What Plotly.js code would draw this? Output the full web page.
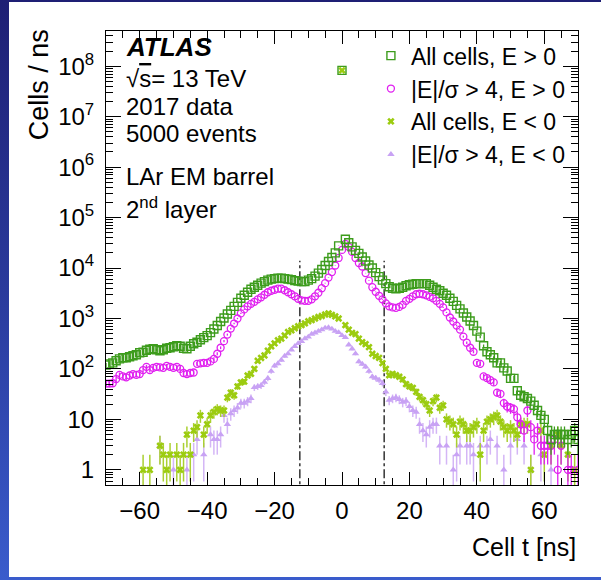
<!DOCTYPE html>
<html>
<head>
<meta charset="utf-8">
<script src="https://cdn.plot.ly/plotly-3.0.1.min.js"></script>
<style>
html,body{margin:0;padding:0;}
body{width:601px;height:580px;overflow:hidden;background:linear-gradient(to bottom,#1e1f74 0%,#2a3a9c 50%,#3a5ccc 100%);position:relative;}
#chart{position:absolute;left:9px;top:2px;width:592px;height:575px;background:#fff;}
</style>
</head>
<body>
<div id="chart"></div>
<script>
// Bin centres (ns)
const cellTime = [-70,-69,-68,-67,-66,-65,-64,-63,-62,-61,-60,-59,-58,-57,-56,-55,-54,-53,-52,-51,
-50,-49,-48,-47,-46,-45,-44,-43,-42,-41,-40,-39,-38,-37,-36,-35,-34,-33,-32,-31,
-30,-29,-28,-27,-26,-25,-24,-23,-22,-21,-20,-19,-18,-17,-16,-15,-14,-13,-12,-11,
-10,-9,-8,-7,-6,-5,-4,-3,-2,-1,0,1,2,3,4,5,6,7,8,9,10,
11,12,13,14,15,16,17,18,19,20,21,22,23,24,25,26,27,28,29,30,
31,32,33,34,35,36,37,38,39,40,41,42,43,44,45,46,47,48,49,50,
51,52,53,54,55,56,57,58,59,60,61,62,63,64,65,66,67,68,69,70];

// All cells, E > 0
const allCellsPos = [120,126,132,145,158,166,166,174,182,191,
209,214,234,245,251,240,229,240,257,263,
275,288,282,257,251,282,316,339,380,417,
457,525,617,724,871,1023,1230,1445,1738,2089,
2512,2884,3311,3802,4169,4571,5012,5370,5754,6026,
6166,6310,6310,6166,6026,5888,5623,5495,5370,5370,
5754,6166,6918,7943,9333,11220,13490,16220,19950,27540,
83000000,
37150,31620,26300,22390,19500,16600,13800,11480,10000,8128,
6761,5754,4898,4266,3981,3890,3981,4169,4467,4677,
4786,4898,4898,4898,4898,4571,4169,3802,3548,3162,
2884,2512,2188,1820,1549,1288,1072,891,724,562,
427,288,219,191,166,132,132,105,91,65,
65,37,30,28,26,23,19,15,12,10,
6,4,5,5,5,5,4,5,6,4];

// |E|/sigma > 4, E > 0
const sigCellsPos = [51,51,52,63,76,71,68,74,79,76,
79,95,110,95,105,110,107,105,115,110,
105,110,100,83,79,83,85,126,129,132,
132,141,158,200,263,355,479,631,794,1000,
1259,1514,1738,1950,2138,2399,2630,2951,3311,3548,
3715,3890,3890,3631,3311,3020,2754,2455,2291,2239,
2239,2399,2754,3236,3981,5012,6457,8318,11220,15850,
22910,
30200,26300,20890,15850,12590,10720,7943,5623,4169,3388,
2818,2399,1995,1738,1660,1622,1698,1862,2239,2455,
2754,3020,3090,3020,2884,2692,2512,2239,1950,1660,
1318,1047,871,724,603,437,331,263,219,132,
126,71,66,60,54,34,32,21,18,17,
16,11,8,6,15,7,4,6,3,3,
3,3,4,1,3,null,1,1,null,1];

// All cells, E < 0
const allCellsNeg = [null,null,null,null,null,null,null,null,null,null,
null,1,null,1,null,null,3,2,1,2,
null,2,1,2,5,2,6,7,12,5,
8,12,14,16,15,15,27,34,30,45,
54,56,74,80,100,145,165,185,230,280,
320,370,400,460,540,580,640,700,740,800,
880,930,1000,1070,1120,1200,1260,1180,1100,1000,
83000000,
740,600,520,490,400,340,310,270,200,180,
166,130,100,75,80,75,70,62,50,45,
42,35,28,24,20,15,23,27,17,19,
10,9,8,5,9,8,6,6,7,8,
2,6,9,10,11,12,9,7,6,7,
6,5,8,8,8,1,null,null,6,2,
null,3,null,5,3,null,2,null,1,null];

// |E|/sigma > 4, E < 0
const sigCellsNeg = [null,null,null,null,null,null,null,null,null,null,
null,null,null,null,null,null,3,null,null,null,
1,null,null,null,1,null,2,4,null,2,
null,5,4,4,5,12,8,13,15,17,
21,21,23,26,43,45,47,55,65,90,
115,128,150,180,200,240,280,320,350,400,
430,490,520,560,600,650,660,620,560,530,
460,
420,300,250,200,140,125,110,90,70,66,
60,52,35,24,26,27,25,22,23,18,
15,14,8,6,5,7,8,8,3,null,
3,null,1,2,3,null,3,3,2,null,
3,null,3,4,null,3,null,1,null,3,
null,4,null,3,null,1,null,null,2,null,
null,1,null,null,3,null,2,null,null,null];

const seriesNames = ['All cells, E > 0','|E|/\u03c3 > 4, E > 0','All cells, E < 0','|E|/\u03c3 > 4, E < 0'];
const yTickVals = [1,10,1e2,1e3,1e4,1e5,1e6,1e7,1e8];
const yTickText = ['1','10','10<sup>2</sup>','10<sup>3</sup>','10<sup>4</sup>','10<sup>5</sup>','10<sup>6</sup>','10<sup>7</sup>','10<sup>8</sup>'];
const cutTimes = [-12.5, 12.5];
const cutLineSpan = [0.3, 14000];
const labelLines = ['<b><i>ATLAS</i></b>','\u221a<span style="text-decoration:overline">s</span>= 13 TeV','2017 data','5000 events','LAr EM barrel','2<sup>nd</sup> layer'];

function errs(arr){ return arr.map(v => (v==null ? null : Math.sqrt(v))); }

const cutX = [], cutY = [];
cutTimes.forEach((c,i)=>{ if(i>0){cutX.push(null);cutY.push(null);} cutX.push(c,c); cutY.push(cutLineSpan[0],cutLineSpan[1]); });

const traces = [
  {x:cutX, y:cutY, mode:'lines', line:{color:'black', width:1.2, dash:'dashdot'}, showlegend:false, hoverinfo:'skip'},
  {x:cellTime, y:sigCellsNeg, name:seriesNames[3], mode:'markers', legendrank:4,
   marker:{symbol:'triangle-up', size:6.5, color:'#c8a2f4'},
   error_y:{type:'data', array:errs(sigCellsNeg), color:'#d4b6f6', thickness:1.5, width:0}},
  {x:cellTime, y:allCellsNeg, name:seriesNames[2], mode:'markers', legendrank:3,
   marker:{symbol:'x', size:6.5, color:'#9ccc10', line:{width:0}},
   error_y:{type:'data', array:errs(allCellsNeg), color:'#aad030', thickness:1.5, width:0}},
  {x:cellTime, y:sigCellsPos, name:seriesNames[1], mode:'markers', legendrank:2,
   marker:{symbol:'circle-open', size:7, color:'#e020f0', line:{width:1.3}},
   error_y:{type:'data', array:errs(sigCellsPos), color:'#e020f0', thickness:1.3, width:0}},
  {x:cellTime, y:allCellsPos, name:seriesNames[0], mode:'markers', legendrank:1,
   marker:{symbol:'square-open', size:8, color:'#3d9c1c', line:{width:1.4}},
   error_y:{type:'data', array:errs(allCellsPos), color:'#3d9c1c', thickness:1.3, width:0}}
];

const FONT = 'Liberation Sans, Arial, Helvetica, sans-serif';
const annY = [0.965, 0.8943, 0.8348, 0.7753, 0.6785, 0.6100];
const annSize = [26, 24, 24, 24, 24, 24];
const annotations = labelLines.map((txt,i)=>({
  text:txt, xref:'paper', yref:'paper', x:0.0381, y:annY[i], xanchor:'left', yanchor:'middle',
  showarrow:false, font:{family:FONT, size:annSize[i], color:'black'}
}));
annotations.push({text:'Cells / ns', textangle:-90, xref:'paper', yref:'paper', x:-0.143, y:1.008,
  xanchor:'center', yanchor:'top', showarrow:false, font:{family:FONT, size:27, color:'black'}});
annotations.push({text:'Cell t [ns]', xref:'paper', yref:'paper', x:1.0, y:-0.1366,
  xanchor:'right', yanchor:'middle', showarrow:false, font:{family:FONT, size:25, color:'black'}});

const layout = {
  width:592, height:575,
  margin:{l:97, r:23, t:29, b:92},
  paper_bgcolor:'#ffffff', plot_bgcolor:'#ffffff',
  font:{family:FONT, color:'black'},
  showlegend:true,
  legend:{x:0.985, y:0.993, xanchor:'right', yanchor:'top', bgcolor:'rgba(0,0,0,0)',
    font:{family:FONT, size:23, color:'black'}, traceorder:'normal', itemwidth:30},
  xaxis:{range:[-70,70], tick0:0, dtick:20, ticks:'inside', ticklen:13, tickwidth:1, tickcolor:'black',
    showline:true, linecolor:'black', linewidth:1, mirror:'allticks', showgrid:false, zeroline:false,
    tickfont:{family:FONT, size:24, color:'black'}, ticklabelstandoff:4,
    minor:{tick0:0, dtick:5, ticks:'inside', ticklen:7, tickwidth:1, tickcolor:'black', showgrid:false}},
  yaxis:{type:'log', range:[Math.log10(0.5), Math.log10(5e8)], tickmode:'array', tickvals:yTickVals, ticktext:yTickText,
    ticks:'inside', ticklen:15, tickwidth:1, tickcolor:'black',
    showline:true, linecolor:'black', linewidth:1, mirror:'allticks', showgrid:false, zeroline:false,
    tickfont:{family:FONT, size:24, color:'black'}, ticklabelstandoff:6,
    minor:{dtick:'D1', ticks:'inside', ticklen:7, tickwidth:1, tickcolor:'black', showgrid:false}},
  annotations:annotations
};

Plotly.newPlot('chart', traces, layout, {displayModeBar:false, staticPlot:true});
</script>
</body>
</html>
